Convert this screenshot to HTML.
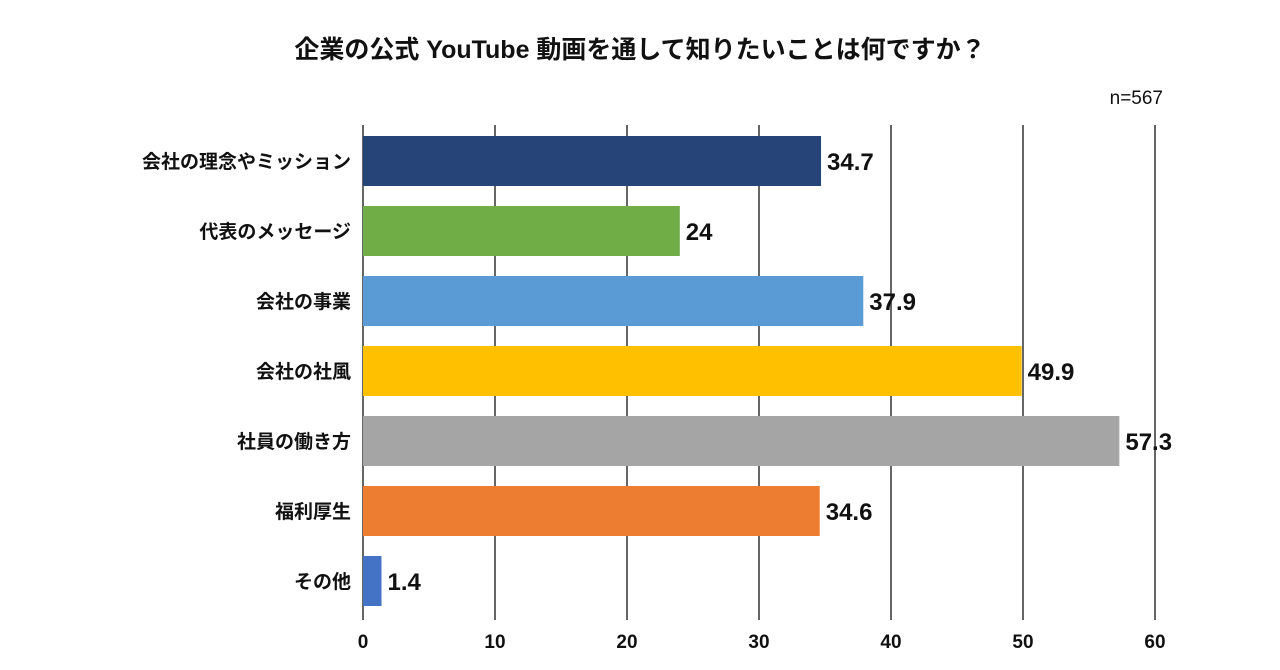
<!DOCTYPE html>
<html><head><meta charset="utf-8">
<style>
body{margin:0;background:#fff;}
svg{display:block;font-family:"Liberation Sans","Noto Sans CJK JP",sans-serif;}
</style></head>
<body>
<svg id="chart" width="1280" height="670" viewBox="0 0 1280 670">
<text x="640" y="58" text-anchor="middle" font-size="25" font-weight="bold" fill="#111">企業の公式 YouTube 動画を通して知りたいことは何ですか？</text>
<text x="1163" y="104" text-anchor="end" font-size="19" fill="#111">n=567</text>
<g id="grid"></g><g id="bars"></g>
</svg>
<script>
const categories=["会社の理念やミッション","代表のメッセージ","会社の事業","会社の社風","社員の働き方","福利厚生","その他"];
const values=[34.7,24,37.9,49.9,57.3,34.6,1.4];
const valueLabels=["34.7","24","37.9","49.9","57.3","34.6","1.4"];
const ticks=[0,10,20,30,40,50,60];
const colors=["#264478","#70ad47","#5b9bd5","#ffc000","#a5a5a5","#ed7d31","#4472c4"];
const NS="http://www.w3.org/2000/svg";
const x0=363,x1=1155,plotTop=125,plotBottom=620;
const xs=v=>x0+(v-0)/(60-0)*(x1-x0);
const band=70,bh=50;
const yc=i=>161+i*band;
function mk(t,a,p){const e=document.createElementNS(NS,t);for(const k in a)e.setAttribute(k,a[k]);p.appendChild(e);return e;}
const g=document.getElementById('grid'),b=document.getElementById('bars');
ticks.forEach(t=>{
 const l=mk('line',{x1:xs(t),x2:xs(t),y1:plotTop,y2:plotBottom,stroke:'#333','stroke-width':1.5},g);
 
 
 const tx=mk('text',{x:xs(t),y:648,'text-anchor':'middle','font-size':19,'font-weight':'bold',fill:'#111'},g);
 tx.textContent=t;
 
 
});
categories.forEach((c,i)=>{
 const r=mk('rect',{x:xs(0),y:yc(i)-bh/2,width:xs(values[i])-xs(0),height:bh,fill:colors[i]},b);
 
 
 const lb=mk('text',{x:351,y:yc(i)+7,'text-anchor':'end','font-size':19,'font-weight':'bold',fill:'#111'},b);
 lb.textContent=c;
 
 
 const vl=mk('text',{x:xs(values[i])+6,y:yc(i)+9,'font-size':24,'font-weight':'bold',fill:'#111'},b);
 vl.textContent=valueLabels[i];
 
 
});
</script>
</body></html>
